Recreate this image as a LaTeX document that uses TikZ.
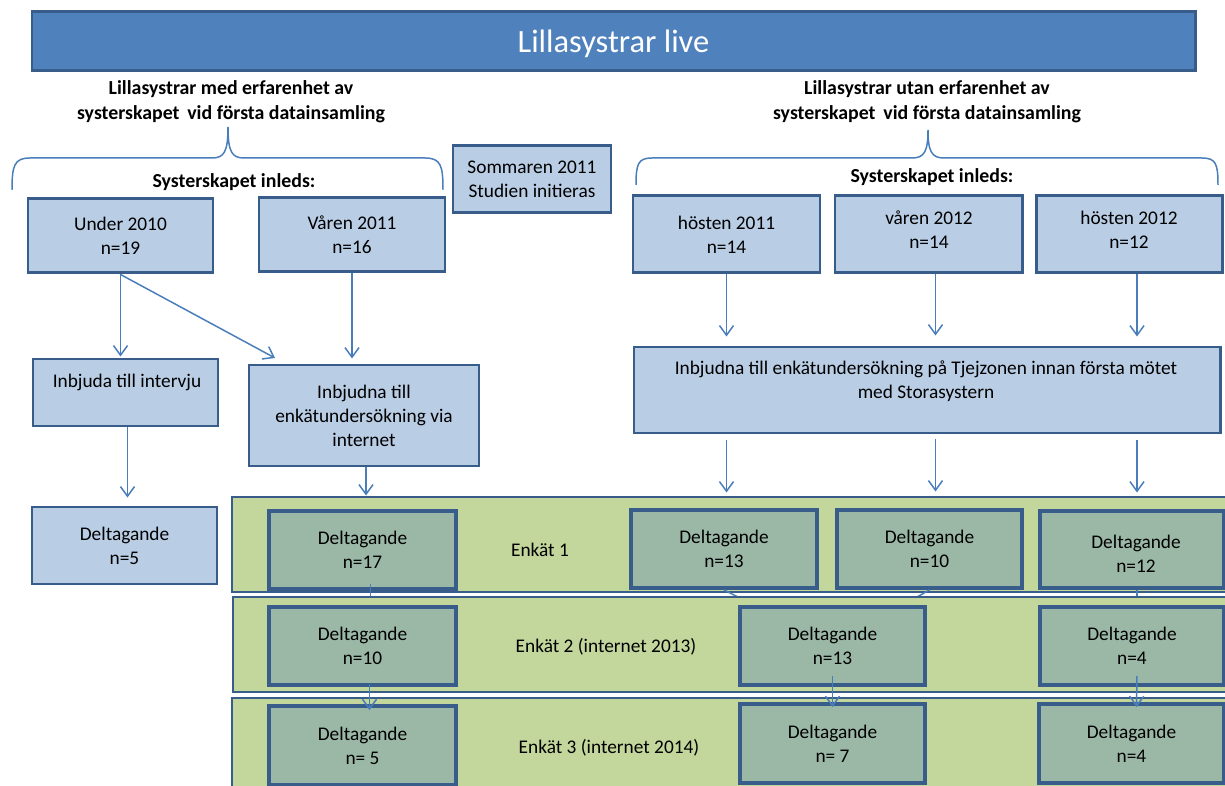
\documentclass[tikz,border=0pt]{standalone}
\usepackage{fontspec}
\setmainfont{Carlito}
\usetikzlibrary{calc,arrows.meta}
\pgfdeclarelayer{bandA}
\pgfdeclarelayer{hidden}
\pgfsetlayers{bandA,hidden,main}
\definecolor{boxfill}{HTML}{B9CDE5}
\definecolor{boxline}{HTML}{385D8A}
\definecolor{titlefill}{HTML}{4F81BD}
\definecolor{bandfill}{HTML}{C3D69B}
\definecolor{darkfill}{HTML}{9BB8A7}
\definecolor{arrcol}{HTML}{4A7EBB}
\begin{document}
\begin{tikzpicture}[x=0.02cm, y=-0.02cm, font=\fontsize{11}{13.6}\selectfont,
  sz/.style 2 args={minimum width=#1*0.02cm, minimum height=#2*0.02cm},
  lbox/.style={draw=boxline, fill=boxfill, line width=1.7pt, inner sep=0pt, align=center},
  dbox/.style={draw=boxline, fill=darkfill, line width=2.1pt, inner sep=0pt, align=center},
  band/.style={draw=boxline, fill=bandfill, line width=1.7pt, inner sep=0pt},
  titlebox/.style={draw=boxline, fill=titlefill, line width=1.7pt, inner sep=0pt, text=white, text depth=0pt, font=\fontsize{18.5}{22}\selectfont},
  head/.style={font=\bfseries\fontsize{11.3}{14.2}\selectfont, align=center, inner sep=0pt},
  txt/.style={align=center, inner sep=0pt},
  arr/.style={draw=arrcol, line width=0.85pt, -{Straight Barb[length=5.5pt,width=8pt]}},
  conn/.style={draw=arrcol, line width=0.85pt},
  brace/.style={draw=arrcol, line width=0.85pt}]
\useasboundingbox (0,0) rectangle (1225,786);

% title and headings
\node[titlebox, sz={1163}{59}] (title) at (613.5,41.5) {Lillasystrar live};
\node[head] (headL) at (231,101.5) {Lillasystrar med erfarenhet av\\systerskapet\ \,vid första datainsamling};
\node[head] (headR) at (927,102) {Lillasystrar utan erfarenhet av\\systerskapet\ \,vid första datainsamling};

\draw[brace] (12,190) .. controls (12,166) and (14,158) .. (30,158) -- (212,158) .. controls (224,158) and (228,152) .. (228,127) .. controls (228,152) and (232,158) .. (244,158) -- (425,158) .. controls (441,158) and (443,166) .. (443,190);
\draw[brace] (636,185) .. controls (636,164) and (638,158) .. (652,158) -- (912,158) .. controls (924,158) and (928,152) .. (928,130) .. controls (928,152) and (932,158) .. (944,158) -- (1202,158) .. controls (1216,158) and (1218,164) .. (1218,185);

\node[head] (inledsL) at (234,182) {Systerskapet inleds:};
\node[head] (inledsR) at (932,177) {Systerskapet inleds:};

\node[lbox, sz={158}{67}] (somm) at (532,179.5) {Sommaren 2011\\Studien initieras};

% row 1
\node[lbox, sz={185}{74}] (u2010) at (120.5,236) {Under 2010\\n=19};
\node[lbox, sz={186}{74}] (v2011) at (352,235) {Våren 2011\\n=16};
\node[lbox, sz={187}{77}] (h11) at (726.5,234.5) {hösten 2011\\n=14};
\node[lbox, sz={187}{77}] (v12) at (928.5,234.5) {};
\node[txt] (v12t) at (929,230) {våren 2012\\n=14};
\node[lbox, sz={186}{77}] (h12) at (1129,234.5) {};
\node[txt] (h12t) at (1129,230) {hösten 2012\\n=12};

% row 2
\node[lbox, sz={185}{67}] (ij) at (125.5,392.5) {};
\node[txt] (ijt) at (127,382) {Inbjuda till intervju};
\node[lbox, sz={230}{101}] (ii) at (364,415.5) {Inbjudna till\\enkätundersökning via\\internet};
\node[lbox, sz={586}{86}] (tj) at (927,390) {};
\node[txt] (tjt) at (926,381) {Inbjudna till enkätundersökning på Tjejzonen innan första mötet\\med Storasystern};

% row 3
\node[lbox, sz={185}{77}] (d5) at (124.5,545.5) {Deltagande\\n=5};

% band 1
\begin{pgfonlayer}{bandA}
\node[band, sz={1000}{95}] (band1) at (732,544.5) {};
\node[dbox, sz={187}{78}] (e1a) at (362.5,550) {Deltagande\\n=17};
\node[txt] (enk1) at (540,550) {Enkät 1};
\node[dbox, sz={186}{78}] (e1b) at (724,549) {Deltagande\\n=13};
\node[dbox, sz={185}{78}] (e1c) at (929.5,549) {Deltagande\\n=10};
\node[dbox, sz={184}{77}] (e1d) at (1132,549.5) {};
\node[txt] (e1dt) at (1136,554) {Deltagande\\n=12};
\end{pgfonlayer}

% band 2
\node[band, sz={999}{95}] (band2) at (732.5,644.5) {};
\node[dbox, sz={187}{78}] (e2a) at (362.5,646) {Deltagande\\n=10};
\node[txt] (enk2) at (606,647) {Enkät 2 (internet 2013)};
\node[dbox, sz={185}{78}] (e2b) at (832.5,646) {Deltagande\\n=13};
\node[dbox, sz={184}{78}] (e2c) at (1132,646) {Deltagande\\n=4};

% band 3
\node[band, sz={1000}{102}] (band3) at (732,749) {};
\node[dbox, sz={187}{79}] (e3a) at (362.5,745.5) {Deltagande\\n= 5};
\node[txt] (enk3) at (609,748) {Enkät 3 (internet 2014)};
\node[dbox, sz={185}{79}] (e3b) at (832.5,743.5) {Deltagande\\n= 7};
\node[dbox, sz={185}{79}] (e3c) at (1131.5,743.5) {Deltagande\\n=4};

% hidden connectors between band 1 and band 2
\begin{pgfonlayer}{hidden}
\draw[conn] ($(e1a.south)+(8,-7)$) -- ($(e2a.north)+(8,0)$);
\draw[conn] (e1b.south) -- (e2b.center);
\draw[conn] (e1c.south) -- (e2b.center);
\draw[conn] ($(e1d.south)+(5,0)$) -- ($(e2c.north)+(5,0)$);
\end{pgfonlayer}

% upper arrows
\coordinate (diagEnd) at (275,358);
\draw[arr] (u2010.south) -- ($(u2010.south |- ij.north)+(0,-1)$);
\draw[arr] (u2010.south) -- (diagEnd);
\draw[arr] (v2011.south) -- ($(v2011.south |- ii.north)+(0,-5)$);
\draw[arr] ($(ij.south)+(2,0)$) -- ($(ij.south |- d5.north)+(2,-8)$);
\draw[arr] ($(ii.south)+(2,0)$) -- ($(ii.south |- band1.north)+(2,0)$);
\draw[arr] (h11.south) -- ($(h11.south |- tj.north)+(0,-9)$);
\draw[arr] ($(v12.south)+(7,0)$) -- ($(v12.south |- tj.north)+(7,-10)$);
\draw[arr] ($(h12.south)+(8,0)$) -- ($(h12.south |- tj.north)+(8,-9)$);
\draw[arr] ($(h11.south |- tj.south)+(0,6)$) -- ($(h11.south |- band1.north)+(0,-3)$);
\draw[arr] ($(v12.south |- tj.south)+(7,5)$) -- ($(v12.south |- band1.north)+(7,-4)$);
\draw[arr] ($(h12.south |- tj.south)+(8,6)$) -- ($(h12.south |- band1.north)+(8,-3)$);

% arrows band 2 -> band 3
\draw[arr] ($(e2a.south)+(7,-3)$) -- ($(e3a.north)+(7,6)$);
\draw[arr] ($(e2b.south)+(0,-11)$) -- ($(e3b.north)+(0,5)$);
\draw[arr] ($(e2c.south)+(5,-11)$) -- ($(e3c.north)+(5,5)$);
\end{tikzpicture}
\end{document}
